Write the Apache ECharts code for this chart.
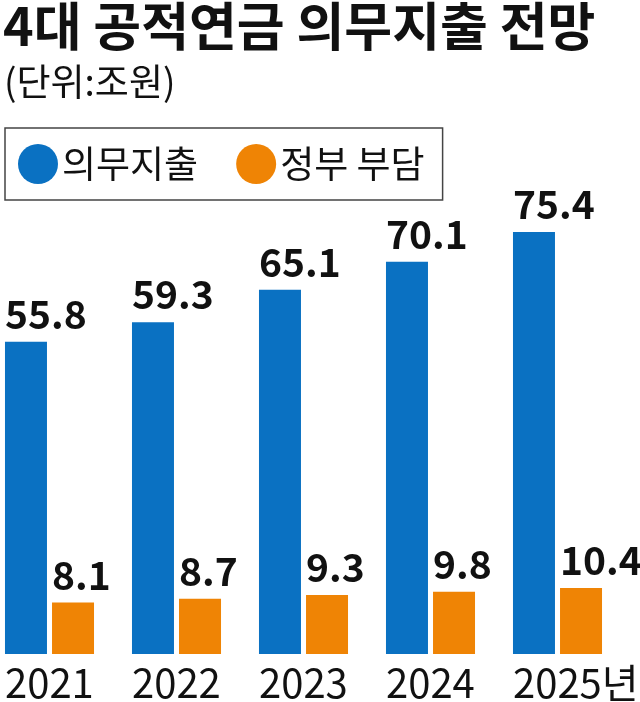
<!DOCTYPE html>
<html>
<head>
<meta charset="utf-8">
<script src="https://cdn.jsdelivr.net/npm/echarts@6/dist/echarts.min.js"></script>
<style>
html,body{margin:0;padding:0;background:#fff;}
#chart{width:640px;height:702px;}
</style>
</head>
<body>
<div id="chart"></div>
<script>
const categories = ['2021', '2022', '2023', '2024', '2025년'];
const mandatorySpending = [55.8, 59.3, 65.1, 70.1, 75.4];
const governmentShare = [8.1, 8.7, 9.3, 9.8, 10.4];
const seriesNames = ['의무지출', '정부 부담'];
const titleText = '4대 공적연금 의무지출 전망';
const unitText = '(단위:조원)';

const FONT = '"Noto Sans CJK KR", "Noto Sans", sans-serif';
const BLUE = '#0a71c2';
const ORANGE = '#ef8405';

const chart = echarts.init(document.getElementById('chart'));
chart.setOption({
  backgroundColor: '#fff',
  animation: false,
  title: [
    { text: titleText, left: 3, top: 0, padding: 0,
      textStyle: { fontFamily: FONT, fontSize: 52, fontWeight: 'bold', color: '#111' } },
    { text: unitText, left: 4, top: 63, padding: 0,
      textStyle: { fontFamily: FONT, fontSize: 37, fontWeight: 'normal', color: '#111' } }
  ],
  legend: {
    left: 5, top: 128,
    orient: 'horizontal',
    padding: [16, 18, 16, 13],
    borderColor: '#444', borderWidth: 1.5,
    itemWidth: 42, itemHeight: 40, itemGap: 38,
    icon: 'circle',
    textStyle: { fontFamily: FONT, fontSize: 37, color: '#111', padding: [0, 0, 0, -2] },
    data: seriesNames
  },
  grid: { left: -14, right: 19, top: 100, bottom: 48, outerBoundsMode: 'none', containLabel: false },
  xAxis: {
    type: 'category',
    data: categories,
    axisLine: { show: false },
    axisTick: { show: false },
    axisLabel: {
      margin: 9,
      interval: 0,
      formatter: v => '{t|' + v + '}',
      rich: { t: { width: 89, align: 'left', fontFamily: FONT, fontSize: 40, color: '#111' } }
    }
  },
  yAxis: [
    { type: 'value', min: 0, max: 99, show: false, splitLine: { show: false } },
    { type: 'value', min: 0, max: 87.2, show: false, splitLine: { show: false } }
  ],
  series: [
    { name: seriesNames[0], type: 'bar', yAxisIndex: 0, data: mandatorySpending,
      barWidth: 42, barGap: '12%', itemStyle: { color: BLUE },
      label: { show: true, position: [0, -8], align: 'left', verticalAlign: 'bottom',
        fontFamily: FONT, fontSize: 39, fontWeight: 'bold', color: '#111',
        formatter: p => p.value.toFixed(1) } },
    { name: seriesNames[1], type: 'bar', yAxisIndex: 1, data: governmentShare,
      barWidth: 42, barGap: '12%', itemStyle: { color: ORANGE },
      label: { show: true, position: [0, -8], align: 'left', verticalAlign: 'bottom',
        fontFamily: FONT, fontSize: 39, fontWeight: 'bold', color: '#111',
        formatter: p => p.value.toFixed(1) } }
  ]
});
</script>
</body>
</html>
